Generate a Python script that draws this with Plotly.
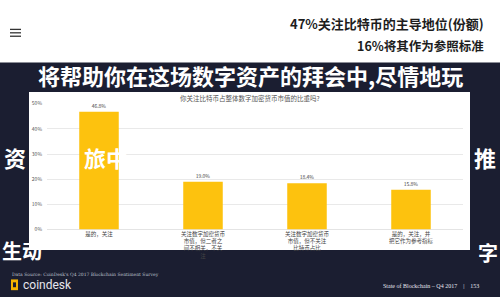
import plotly.graph_objects as go

# ---- data ----
categories = [
    "是的，关注",
    "关注数字加密货币<br>市值，但二者之<br>间不相关，不关<br>注",
    "关注数字加密货币<br>市值，但不关注<br>比特币占比",
    "是的，关注，并<br>把它作为参考指标",
]
values = [46.8, 19.0, 18.4, 15.8]
tick_vals = [0, 10, 20, 30, 40, 50]
tick_text = ["0%", "10%", "20%", "30%", "40%", "50%"]

title_text = "你关注比特币占整体数字加密货币市值的比重吗?"
header1 = "47%关注比特币的主导地位(份额)"
header2 = "16%将其作为参照标准"
band_text = "将帮助你在这场数字资产的拜会中,尽情地玩"
source_text = "Data Source: CoinDesk's Q4 2017 Blockchain Sentiment Survey"
footer_right = "State of Blockchain – Q4 2017    |    153"

W, H = 500, 300
DARK = "#1b1e31"
BAR = "#FDC20E"
FONT = "Noto Sans CJK SC"

def px(x):
    return x / W

def py(y):
    return 1 - y / H

fig = go.Figure()
fig.add_trace(go.Bar(
    x=categories, y=values,
    marker=dict(color=BAR, line=dict(width=0)),
    text=[f"{v:.1f}%" for v in values],
    textposition="outside",
    textfont=dict(size=5, color="#444444", family=FONT),
    cliponaxis=False,
))

shapes = [
    dict(type="rect", xref="paper", yref="paper", x0=0, x1=1, y0=0, y1=py(60),
         fillcolor=DARK, line=dict(width=0), layer="below"),
    dict(type="rect", xref="paper", yref="paper", x0=px(29), x1=px(470),
         y0=py(252), y1=py(90), fillcolor="white", line=dict(width=0), layer="below"),
]
# hamburger icon
for yy in (26, 29.5, 33):
    shapes.append(dict(type="line", xref="paper", yref="paper", x0=px(10), x1=px(21),
                       y0=py(yy), y1=py(yy), line=dict(color="#333333", width=1.3)))
# coindesk logo block
shapes.append(dict(type="rect", xref="paper", yref="paper", x0=px(11), x1=px(18),
                   y0=py(293), y1=py(282), fillcolor="#F5B400", line=dict(width=0)))
shapes.append(dict(type="rect", xref="paper", yref="paper", x0=px(13), x1=px(16),
                   y0=py(290), y1=py(285), fillcolor=DARK, line=dict(width=0)))

def big(text, x, y, size=24, anchor="left"):
    return dict(text="<b>" + text + "</b>", x=px(x), y=py(y), xref="paper", yref="paper",
                showarrow=False, font=dict(size=size, color="white", family=FONT),
                xanchor=anchor, yanchor="middle")

annotations = [
    dict(text=title_text, x=0.5, y=py(96.5), xref="paper", yref="paper", showarrow=False,
         font=dict(size=6.5, color="#555555", family=FONT), xanchor="center", yanchor="middle"),
    dict(text="<b>" + header1 + "</b>", x=px(486), y=py(20), xref="paper", yref="paper",
         showarrow=False, font=dict(size=13, color="#1d1d1d", family=FONT),
         xanchor="right", yanchor="middle"),
    dict(text="<b>" + header2 + "</b>", x=px(486), y=py(43), xref="paper", yref="paper",
         showarrow=False, font=dict(size=12.5, color="#1d1d1d", family=FONT),
         xanchor="right", yanchor="middle"),
    big(band_text, 250, 73, size=22, anchor="center"),
    big("资", 2, 157, size=22),
    big("旅中", 82, 157, size=22),
    big("推", 472, 157, size=22),
    big("生动", 0, 252, size=20),
    big("字", 476, 254, size=20),
    dict(text=source_text, x=px(10), y=py(277), xref="paper", yref="paper",
         showarrow=False, font=dict(size=4.5, color="#bfc2cc", family="DejaVu Serif"),
         xanchor="left", yanchor="middle"),
    dict(text="coindesk", x=px(21), y=py(288), xref="paper", yref="paper",
         showarrow=False, font=dict(size=12, color="#e6e6ee", family="Roboto"),
         xanchor="left", yanchor="middle"),
    dict(text=footer_right, x=px(481), y=py(289), xref="paper", yref="paper",
         showarrow=False, font=dict(size=6, color="#e6e6ee", family="Liberation Serif"),
         xanchor="right", yanchor="middle"),
]

fig.update_layout(
    width=W, height=H,
    margin=dict(l=0, r=0, t=0, b=0),
    paper_bgcolor="white",
    plot_bgcolor="rgba(0,0,0,0)",
    showlegend=False,
    bargap=0.62,
    shapes=shapes,
    annotations=annotations,
    font=dict(family=FONT),
    xaxis=dict(
        domain=[px(47), px(463)],
        showgrid=False, zeroline=False, showline=False, ticks="",
        tickfont=dict(size=5.5, color="#444444", family=FONT),
        anchor="y",
    ),
    yaxis=dict(
        domain=[py(231), py(102)],
        range=[0, 50],
        tickvals=tick_vals, ticktext=tick_text,
        showgrid=True, gridcolor="#e9e9e9", gridwidth=0.8,
        zeroline=True, zerolinecolor="#e4e4e4", zerolinewidth=0.8,
        showline=False, ticks="",
        tickfont=dict(size=5, color="#555555", family=FONT),
        ticklabelstandoff=4,
    ),
)

fig.write_html("out.html")
